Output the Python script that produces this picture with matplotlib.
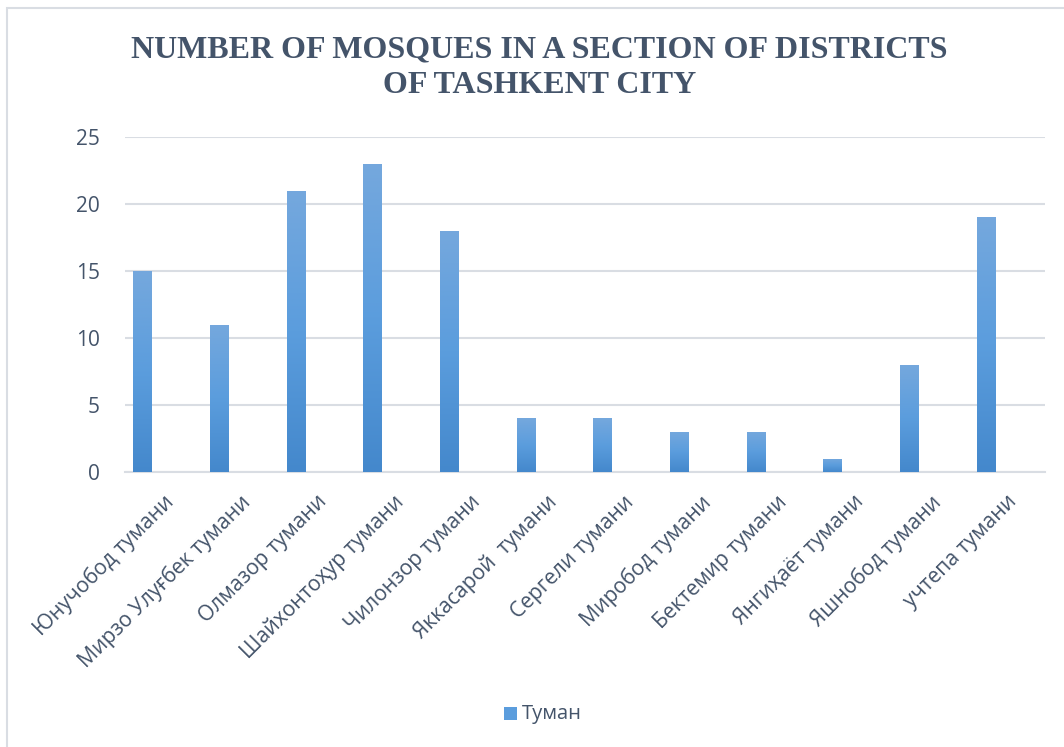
import matplotlib
matplotlib.use("Agg")
import matplotlib.pyplot as plt
import numpy as np
from matplotlib.patches import Rectangle
from matplotlib.colors import LinearSegmentedColormap
import matplotlib.transforms as mtransforms

plt.rcParams['font.family'] = ['Open Sans', 'DejaVu Sans']

categories = ["Юнучобод тумани", "Мирзо Улуғбек тумани", "Олмазор тумани",
              "Шайхонтоҳур тумани", "Чилонзор тумани", "Яккасарой  тумани",
              "Сергели тумани", "Миробод тумани", "Бектемир тумани",
              "Янгиҳаёт тумани", "Яшнобод тумани", "учтепа тумани"]
values = [15, 11, 21, 23, 18, 4, 4, 3, 3, 1, 8, 19]
yticks = [0, 5, 10, 15, 20, 25]
series_name = "Туман"
title = "NUMBER OF MOSQUES IN A SECTION OF DISTRICTS\nOF TASHKENT CITY"

text_color = '#44546A'
grid_color = '#D9DDE3'
top_c = '#75A8DD'
bot_c = '#4488CC'

W, H = 1064, 747
fig = plt.figure(figsize=(W / 100, H / 100), dpi=100)

# chart area border
fig.patches.append(Rectangle((7 / W, -0.1), 1.2, 1 - 8 / H + 0.1, transform=fig.transFigure,
                             fill=False, edgecolor='#D9DDE3', linewidth=1.5))

ax = fig.add_axes([125 / W, 1 - 472 / H, 920 / W, 335 / H])
x = np.arange(len(categories))
offset = -0.275
bw = 0.235
bars = ax.bar(x + offset, values, width=bw, color=bot_c, zorder=3)

cmap = LinearSegmentedColormap.from_list('g', [bot_c, '#5B9DDD', top_c])
grad = np.linspace(0, 1, 256).reshape(-1, 1)
for b in bars:
    bx, by = b.get_x(), b.get_y()
    bwid, bh = b.get_width(), b.get_height()
    im = ax.imshow(grad, cmap=cmap, origin='lower', aspect='auto',
                   extent=[bx, bx + bwid, by, by + bh], zorder=4)
    im.set_clip_path(b)

ax.set_xlim(-0.5, len(categories) - 0.5)
ax.set_ylim(0, 25)
ax.set_yticks(yticks)
ax.set_xticks(x)
ax.set_xticklabels(categories, rotation=45, ha='right', va='top', rotation_mode='anchor',
                   fontsize=15.2, color=text_color)
shift = mtransforms.ScaledTranslation(-5 / 100, 0, fig.dpi_scale_trans)
for lbl in ax.get_xticklabels():
    lbl.set_transform(lbl.get_transform() + shift)
ax.tick_params(axis='x', length=0, pad=14)
ax.tick_params(axis='y', length=0, pad=18, labelsize=15, labelcolor=text_color)
ax.grid(axis='y', color=grid_color, linewidth=1.5, zorder=0)
for s in ['top', 'right', 'left']:
    ax.spines[s].set_visible(False)
ax.spines['bottom'].set_color(grid_color)
ax.spines['bottom'].set_linewidth(1.5)
ax.set_facecolor('none')

fig.text(539.5 / W, 1 - 68 / H, title, ha='center', va='center', fontsize=23,
         fontweight='bold', family=['Liberation Serif', 'DejaVu Serif'], color=text_color,
         linespacing=1.3)

# legend
fig.patches.append(Rectangle((504 / W, 1 - 720 / H), 13 / W, 13 / H, transform=fig.transFigure,
                             facecolor='#5B9DDD', edgecolor='none'))
fig.text(522 / W, 1 - 714 / H, series_name, ha='left', va='center', fontsize=14.5,
         color=text_color)

fig.savefig('out.png', dpi=100)
